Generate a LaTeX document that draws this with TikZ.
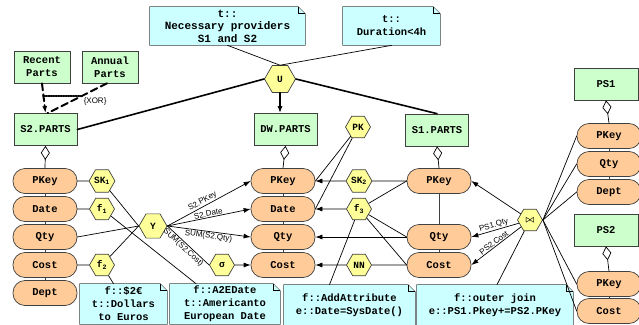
\documentclass[tikz,border=0pt]{standalone}
\usepackage{fontspec}
\usepackage{amsmath}
\setmainfont{Liberation Mono}
\setsansfont{Liberation Sans}
\usetikzlibrary{shapes.geometric,arrows.meta,backgrounds}
\definecolor{classgreen}{HTML}{CCFFCC}
\definecolor{attrorange}{HTML}{FFCC99}
\definecolor{opyellow}{HTML}{FFFF99}
\definecolor{notecyan}{HTML}{CCFFFF}
\definecolor{edgegray}{HTML}{404040}
\begin{document}
\begin{tikzpicture}[x=1pt,y=-1pt,line cap=round,line width=0.7pt,
  every node/.style={font=\fontsize{10.5}{13}\selectfont\bfseries},
  class/.style={draw=edgegray,fill=classgreen,minimum width=63pt,minimum height=32pt,inner sep=0pt,align=center},
  attr/.style={draw=edgegray,fill=attrorange,rounded corners=12pt,minimum width=64pt,minimum height=25pt,inner sep=0pt},
  op/.style={draw=edgegray,fill=opyellow,regular polygon,regular polygon sides=6,minimum size=25pt,inner sep=0pt,font=\fontsize{9.5}{11}\selectfont\bfseries},
  notebox/.style={align=center,inner sep=0pt,minimum height=40pt},
  lbl/.style={font=\fontsize{8}{9}\sffamily,sloped,inner sep=0.8pt},
  arr/.style={-{Latex[length=7pt,width=5pt]}},
  rarr/.style={{Latex[length=7pt,width=5pt]}-},
  agg/.style={{Diamond[open,length=14pt,width=9pt,fill=white]}-}]
  \useasboundingbox (0,0) rectangle (639,324);
  % notes
  \node[notebox,minimum width=155pt,minimum height=38pt,font=\fontsize{11}{12.5}\selectfont\bfseries] (N1) at (227.5,26) {t::\\Necessary providers\\S1 and S2};
  \node[notebox,minimum width=97pt,minimum height=38pt] (N2) at (391.5,26) {t::\\Duration<4h};
  \node[notebox,minimum width=87pt] (N3) at (123.5,304) {f::\$2€\\t::Dollars\\to Euros};
  \node[notebox,minimum width=110pt] (N4) at (225,304) {f::A2EDate\\t::Americanto\\European Date};
  \node[notebox,minimum width=131pt] (N5) at (349.5,305) {f::AddAttribute\\e::Date=SysDate()};
  \node[notebox,minimum width=156pt] (N6) at (495,305) {f::outer join\\e::PS1.Pkey+=PS2.PKey};
  % classes
  \node[class,minimum width=56pt] (Recent) at (42,67) {Recent\\Parts};
  \node[class,minimum width=56pt] (Annual) at (110,67) {Annual\\Parts};
  \node[class] (S2) at (45.5,129.5) {S2.PARTS};
  \node[class] (DW) at (285.5,129.5) {DW.PARTS};
  \node[class] (S1) at (437,130) {S1.PARTS};
  \node[class,minimum width=64pt] (PS1) at (606,84) {PS1};
  \node[class,minimum width=64pt] (PS2) at (606,230) {PS2};
  % attributes
  \node[attr] (S2PKey) at (45,181) {PKey};
  \node[attr] (S2Date) at (45,209) {Date};
  \node[attr] (S2Qty) at (45,237) {Qty};
  \node[attr] (S2Cost) at (45,265) {Cost};
  \node[attr] (S2Dept) at (45,293) {Dept};
  \node[attr] (DWPKey) at (283,181) {PKey};
  \node[attr] (DWDate) at (283,209) {Date};
  \node[attr] (DWQty) at (283,237) {Qty};
  \node[attr] (DWCost) at (283,265) {Cost};
  \node[attr] (S1PKey) at (439,181) {PKey};
  \node[attr] (S1Qty) at (439,237) {Qty};
  \node[attr] (S1Cost) at (439,265) {Cost};
  \node[attr] (PS1PKey) at (609,136) {PKey};
  \node[attr] (PS1Qty) at (609,164) {Qty};
  \node[attr] (PS1Dept) at (609,192) {Dept};
  \node[attr] (PS2PKey) at (609,284) {PKey};
  \node[attr] (PS2Cost) at (609,311) {Cost};
  % operators
  \node[op,minimum size=31pt] (U) at (280,79) {U};
  \node[op] (PK) at (358,127) {PK};
  \node[op] (SK1) at (102,181) {SK\textsubscript{1}};
  \node[op] (F1) at (102,209) {f\textsubscript{1}};
  \node[op] (F2) at (102,265) {f\textsubscript{2}};
  \node[op,minimum size=28pt] (Y) at (153,226) {Y};
  \node[op] (Sig) at (222,265) {σ};
  \node[op] (SK2) at (359,181) {SK\textsubscript{2}};
  \node[op] (F3) at (359,209) {f\textsubscript{3}};
  \node[op] (NN) at (359,265) {NN};
  \node[op] (BJ) at (530,220) {$\boldsymbol{\bowtie}$};
  \begin{scope}[on background layer]
    \foreach \n in {N1,N2,N3,N4,N5,N6}{
      \filldraw[draw=edgegray,fill=notecyan] (\n.south west) -- (\n.north west)
        -- ([xshift=-7pt]\n.north east) -- ([yshift=-7pt]\n.north east) -- (\n.south east) -- cycle;
      \draw[line width=1pt] ([xshift=-7pt]\n.north east) |- ([yshift=-7pt]\n.north east);
    }
    \draw[edgegray] (S2PKey) -- (S2Dept);
    \draw[edgegray] (DWPKey) -- (DWCost);
    \draw[edgegray] (S1PKey) -- (S1Cost);
    \draw[edgegray] (PS1PKey) -- (PS1Dept);
    \draw[edgegray] (PS2PKey) -- (PS2Cost);
  \end{scope}
  % XOR of sources
  \coordinate (xorA) at (43,96);
  \coordinate (xorB) at (82,96);
  \draw[line width=2pt,dash pattern=on 7pt off 4pt,arr] (Recent.south) -- (S2.north);
  \draw[line width=2pt,dash pattern=on 7pt off 4pt] ([xshift=-3pt]Annual.south) -- ([xshift=2pt]S2.north);
  \draw[line width=1.5pt,densely dotted] (xorA) -- (xorB)
    node[anchor=north west,font=\fontsize{8}{9}\sffamily,inner sep=1pt] {\{XOR\}};
  % union
  \draw[line width=1.6pt] (S2.east) -- (U.west);
  \draw[line width=1.6pt] (U.east) -- (S1.north);
  \draw[line width=1.6pt,arr] (U.south) -- (U.south |- DW.north);
  \draw (N1.south) -- (U.north);
  \draw (N2.south) -- (U.north);
  % aggregations
  \draw[agg] (S2.south) -- (S2PKey.north);
  \draw[agg] (DW.south) -- (DWPKey.north);
  \draw[agg] (S1.south) -- (S1PKey.north);
  \draw[agg] (PS1.south) -- (PS1PKey.north);
  \draw[agg] (PS2.south) -- (PS2PKey.north);
  % S2 side
  \draw (S2PKey) -- (SK1);
  \draw (S2Date) -- (F1);
  \draw (S2Cost) -- (F2);
  \draw (S2Qty.east) -- (Y.west);
  \draw (SK1) -- (Y.west);
  \draw (F2) -- (Y.west);
  \draw (F1) -- ([xshift=-29pt]N4.north);
  \draw (F2) -- ([xshift=-10pt]N3.north);
  \draw[arr] (Y.east) -- (DWPKey.west) node[lbl,pos=0.45,above] {S2.PKey};
  \draw[arr] (Y.east) -- (DWDate.west) node[lbl,pos=0.5,above] {S2.Date};
  \draw[arr] (Y.east) -- (DWQty.west) node[lbl,pos=0.5,below] {SUM(S2.Qty)};
  \draw (Y.east) -- (Sig.west) node[lbl,pos=0.46,below] {SUM(S2.Cost)};
  \draw[arr] (Sig) -- (DWCost);
  % S1 side
  \draw (PK) -- (DWPKey.east);
  \draw (PK) -- (DWDate.east);
  \draw (S1PKey) -- (SK2);
  \draw[arr] (SK2) -- (DWPKey.east);
  \draw (S1PKey.west) -- (F3);
  \draw[arr] (F3) -- (DWDate.east);
  \draw (F3) -- (S1Qty.west);
  \draw (F3) -- (S1Cost.west);
  \draw (F3) -- ([xshift=-20pt]N5.north);
  \draw[arr] (S1Qty) -- (DWQty);
  \draw (S1Cost) -- (NN);
  \draw[arr] (NN) -- (DWCost);
  % outer join
  \draw[arr] (BJ) -- (S1PKey.east);
  \draw[rarr] (S1Qty.east) -- (BJ) node[lbl,pos=0.5,above] {PS1.Qty};
  \draw[rarr] (S1Cost.east) -- (BJ) node[lbl,pos=0.5,above] {PS2.Cost};
  \draw (BJ) -- ([xshift=2pt]N6.north);
  \draw (BJ.east) -- (PS1PKey.west);
  \draw (BJ.east) -- (PS1Qty.west);
  \draw (BJ.east) -- (PS1Dept.west);
  \draw (BJ.east) -- (PS2PKey.west);
  \draw (BJ.east) -- (PS2Cost.west);
\end{tikzpicture}
\end{document}
